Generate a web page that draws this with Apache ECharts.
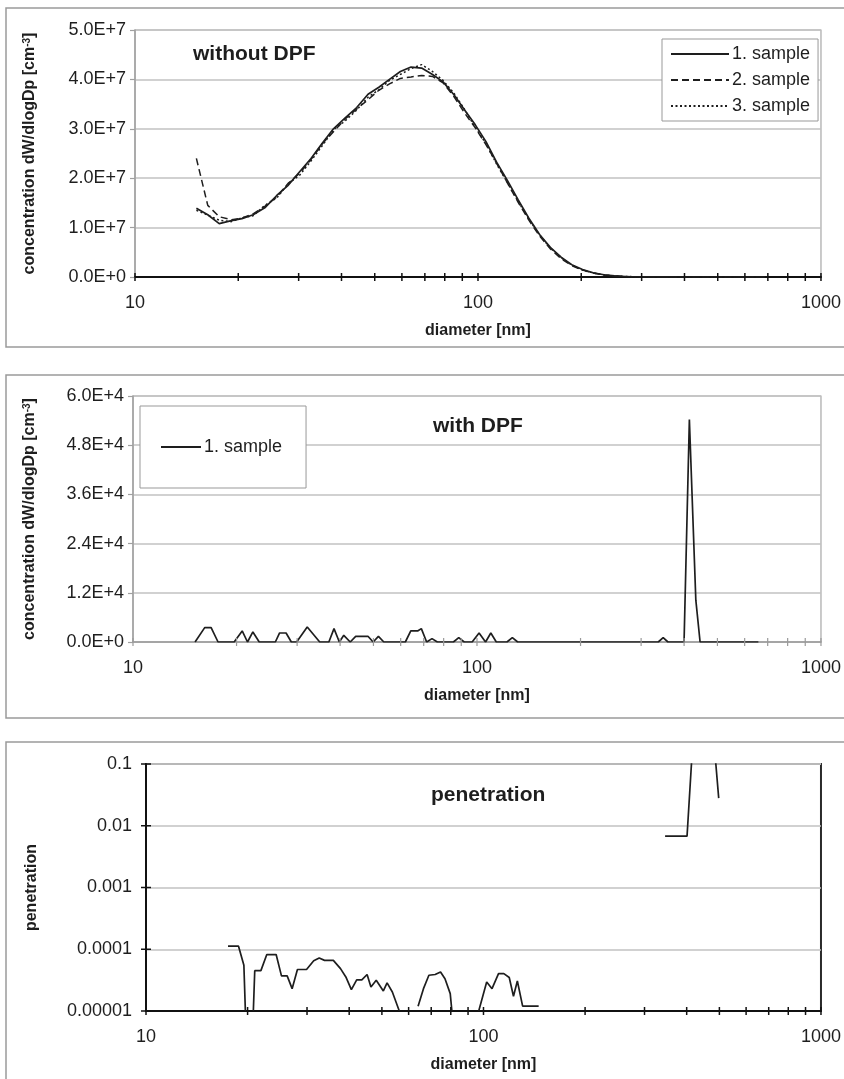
<!DOCTYPE html>
<html><head><meta charset="utf-8">
<script src="https://cdn.jsdelivr.net/npm/echarts@6/dist/echarts.min.js"></script>
<style>html,body{margin:0;padding:0;background:#fff}#c{width:844px;height:1079px}</style>
</head><body><div id="c"></div>
<script>
// ---------- data ----------
const seriesNames = ['1. sample', '2. sample', '3. sample'];
const panelTitles = ['without DPF', 'with DPF', 'penetration'];

// panel 1: without DPF (diameter nm, dW/dlogDp cm^-3)
const diam1 = [15.1, 16.3, 17.6, 19.1, 20.5, 22.1, 23.9, 25.9, 27.9, 30.2, 32.6, 35.1, 37.9, 41.0, 44.3, 47.8, 51.4, 55.2, 59.4, 63.8,
  68.5, 73.7, 79.1, 85.1, 91.4, 98.2, 105.5, 113.4, 121.9, 131.0, 140.7, 151.2, 162.5, 174.7, 187.7, 201.7, 216.7, 232.9, 250.3, 269.0,
  289.0, 310.6, 333.8, 358.7, 385.4, 414.2, 445.1, 478.3, 514.0, 552.3, 593.5, 637.8, 685.4];
const sample1 = [1.39e7, 1.26e7, 1.08e7, 1.14e7, 1.18e7, 1.26e7, 1.40e7, 1.65e7, 1.85e7, 2.13e7, 2.40e7, 2.70e7, 3.00e7, 3.22e7, 3.43e7, 3.70e7, 3.84e7, 4.00e7, 4.16e7, 4.25e7,
  4.23e7, 4.10e7, 3.95e7, 3.69e7, 3.38e7, 3.08e7, 2.74e7, 2.32e7, 1.95e7, 1.56e7, 1.19e7, 8.6e6, 6.0e6, 4.0e6, 2.5e6, 1.5e6, 8.5e5, 4.5e5, 2.2e5, 1.0e5,
  5e4, 3e4, 2e4, 1e4, 0, 0, 0, 0, 0, 0, 0, 0, 0];
const sample2 = [2.40e7, 1.45e7, 1.22e7, 1.16e7, 1.19e7, 1.28e7, 1.43e7, 1.62e7, 1.89e7, 2.10e7, 2.38e7, 2.69e7, 2.94e7, 3.20e7, 3.40e7, 3.59e7, 3.78e7, 3.91e7, 4.02e7, 4.05e7,
  4.08e7, 4.06e7, 3.93e7, 3.65e7, 3.32e7, 3.02e7, 2.68e7, 2.30e7, 1.90e7, 1.51e7, 1.15e7, 8.3e6, 5.7e6, 3.7e6, 2.3e6, 1.4e6, 8.0e5, 4.0e5, 2.0e5, 1.0e5,
  5e4, 3e4, 2e4, 1e4, 0, 0, 0, 0, 0, 0, 0, 0, 0];
const sample3 = [1.35e7, 1.25e7, 1.15e7, 1.12e7, 1.20e7, 1.24e7, 1.45e7, 1.60e7, 1.88e7, 2.06e7, 2.35e7, 2.65e7, 2.98e7, 3.16e7, 3.38e7, 3.64e7, 3.79e7, 3.98e7, 4.10e7, 4.22e7,
  4.30e7, 4.16e7, 3.98e7, 3.72e7, 3.39e7, 3.03e7, 2.70e7, 2.28e7, 1.91e7, 1.53e7, 1.17e7, 8.5e6, 5.9e6, 3.9e6, 2.4e6, 1.4e6, 8.0e5, 4.2e5, 2.0e5, 1.0e5,
  5e4, 3e4, 2e4, 1e4, 0, 0, 0, 0, 0, 0, 0, 0, 0];

// panel 2: with DPF
const dpfDiam = [15.15, 16.16, 16.87, 17.67, 19.68, 20.77, 21.52, 22.31, 23.28, 25.93, 26.68, 27.86, 28.86, 29.9, 32.1, 34.9, 37.1, 38.4, 39.8, 41.0,
  42.8, 44.4, 48.2, 49.9, 51.7, 53.6, 61.9, 64.2, 67.2, 68.9, 71.4, 74.0, 76.7, 85.4, 88.5, 91.8, 96.8, 101.4, 105.9, 109.7,
  113.8, 122.2, 126.7, 131.3, 336.5, 347.7, 359.1, 399.9, 414.4, 432.7, 445.2, 657.7];
const dpfSample1 = [0, 3510, 3510, 0, 0, 2690, 0, 2450, 0, 0, 2200, 2200, 0, 0, 3670, 0, 0, 3270, 0, 1630,
  0, 1390, 1390, 0, 1390, 0, 0, 2690, 2690, 3270, 0, 820, 0, 0, 1060, 0, 0, 2200, 0, 2200,
  0, 0, 1060, 0, 0, 1060, 0, 0, 54290, 10200, 0, 0];

// panel 3: penetration (null = no value / gap)
const penDiam = [17.5, 18.8, 19.5, 19.7, 20.2, 20.8, 21.0, 21.9, 22.8, 24.3, 25.2, 26.2, 27.1, 28.1, 29.9, 31.4, 32.6, 33.8, 35.9, 37.7,
  39.1, 40.6, 42.1, 43.6, 45.2, 46.4, 48.1, 50.5, 51.8, 53.7, 56.3, 60.0, 64.0, 66.4, 68.9, 71.9, 74.6, 76.9, 79.7, 80.6,
  90.0, 96.8, 102.2, 106.0, 110.8, 114.9, 119.2, 122.7, 126.0, 130.6, 145.7, 200.0, 345.2, 401.0, 428.0, 460.0, 497.7];
const penValue = [1.12e-4, 1.12e-4, 5.5e-5, 1e-5, null, 1e-5, 4.5e-5, 4.5e-5, 8.2e-5, 8.2e-5, 3.7e-5, 3.7e-5, 2.3e-5, 4.7e-5, 4.7e-5, 6.5e-5, 7.2e-5, 6.6e-5, 6.6e-5, 4.85e-5,
  3.56e-5, 2.22e-5, 3.2e-5, 3.2e-5, 3.9e-5, 2.45e-5, 3.14e-5, 2.11e-5, 2.85e-5, 2.03e-5, 1e-5, null, 1.19e-5, 2.3e-5, 3.79e-5, 3.9e-5, 4.28e-5, 3.34e-5, 1.91e-5, 1e-5,
  null, 1e-5, 2.95e-5, 2.3e-5, 4.03e-5, 4.03e-5, 3.48e-5, 1.73e-5, 3.06e-5, 1.2e-5, 1.2e-5, null, 6.8e-3, 6.8e-3, 2.3, 4.7, 2.8e-2];

// ticks and labels
const xTickValues = [10, 20, 30, 40, 50, 60, 70, 80, 90, 100, 200, 300, 400, 500, 600, 700, 800, 900, 1000];
const xTickLabels = ['10', '100', '1000'];
const conc1TickLabels = ['0.0E+0', '1.0E+7', '2.0E+7', '3.0E+7', '4.0E+7', '5.0E+7'];
const conc2TickLabels = ['0.0E+0', '1.2E+4', '2.4E+4', '3.6E+4', '4.8E+4', '6.0E+4'];
const penTickValues = [1e-5, 1e-4, 1e-3, 1e-2, 1e-1];
const penTickLabels = ['0.00001', '0.0001', '0.001', '0.01', '0.1'];

// ---------- chart ----------
const FONT = "'Liberation Sans', Arial, sans-serif";
const INK = '#1e1e1e';
const GRIDC = '#c2c2c2';
const FRAME = '#a8a8a8';

function pairs(xs, ys) { return xs.map((x, i) => [x, ys[i] === null ? '-' : ys[i]]); }

function tickSeries(xi, yi, data, horizontal, color, w, half) {
  return {
    type: 'custom', xAxisIndex: xi, yAxisIndex: yi, silent: true, z: 6, animation: false,
    data: data,
    renderItem: function (params, api) {
      const p = api.coord([api.value(0), api.value(1)]);
      const shape = horizontal
        ? { x1: p[0] - half, y1: p[1], x2: p[0] + half, y2: p[1] }
        : { x1: p[0], y1: p[1] - half, x2: p[0], y2: p[1] + half };
      return { type: 'line', shape: shape, style: { stroke: color, lineWidth: w } };
    }
  };
}

const nameRich = {
  t: { fontSize: 16, fontWeight: 'bold', fontFamily: FONT, color: INK },
  s: { fontSize: 10, fontWeight: 'bold', fontFamily: FONT, color: INK, verticalAlign: 'top' }
};
const concName = '{t|concentration dW/dlogDp [cm}{s|-3}{t|]}';

function xAxisCfg(gi, lineColor, lineW) {
  return {
    type: 'log', logBase: 10, gridIndex: gi, min: 10, max: 1000,
    name: 'diameter [nm]', nameLocation: 'middle', nameGap: 46,
    nameTextStyle: { fontSize: 16, fontWeight: 'bold', color: INK, fontFamily: FONT },
    axisLine: { show: true, onZero: false, lineStyle: { color: lineColor, width: lineW } },
    axisTick: { show: false },
    splitLine: { show: false },
    axisLabel: { fontSize: 18, color: INK, margin: 17, fontFamily: FONT,
      formatter: (v, i) => xTickLabels[i] }
  };
}

const lineBase = { type: 'line', showSymbol: false, symbol: 'none', animation: false, clip: true };

const option = {
  animation: false,
  backgroundColor: '#fff',
  textStyle: { fontFamily: FONT },
  graphic: [
    { type: 'rect', shape: { x: 6, y: 8, width: 860, height: 339 }, style: { fill: 'none', stroke: '#9a9a9a', lineWidth: 1.5 }, z: -10 },
    { type: 'rect', shape: { x: 6, y: 375, width: 860, height: 343 }, style: { fill: 'none', stroke: '#9a9a9a', lineWidth: 1.5 }, z: -10 },
    { type: 'rect', shape: { x: 6, y: 742, width: 860, height: 400 }, style: { fill: 'none', stroke: '#9a9a9a', lineWidth: 1.5 }, z: -10 }
  ],
  title: [
    { text: panelTitles[0], left: 193, top: 44, padding: 0, textStyle: { fontSize: 21, fontWeight: 'bold', color: INK, fontFamily: FONT } },
    { text: panelTitles[1], left: 433, top: 416, padding: 0, textStyle: { fontSize: 21, fontWeight: 'bold', color: INK, fontFamily: FONT } },
    { text: panelTitles[2], left: 431, top: 785, padding: 0, textStyle: { fontSize: 21, fontWeight: 'bold', color: INK, fontFamily: FONT } }
  ],
  legend: [
    { data: seriesNames, orient: 'vertical', left: 662, top: 39, padding: [6, 8, 6, 8], itemGap: 8,
      itemWidth: 58, itemHeight: 14, borderColor: '#999', borderWidth: 1, backgroundColor: '#fff',
      itemStyle: { opacity: 0 },
      textStyle: { fontSize: 18, color: INK, fontFamily: FONT, padding: [0, 0, 0, -2] }, selectedMode: false },
    { data: [seriesNames[0]], orient: 'vertical', left: 140, top: 406, padding: [32, 24, 32, 20],
      itemWidth: 40, itemHeight: 14, borderColor: '#999', borderWidth: 1, backgroundColor: '#fff',
      itemStyle: { opacity: 0 },
      textStyle: { fontSize: 18, color: INK, fontFamily: FONT, padding: [0, 0, 0, -2] }, selectedMode: false }
  ],
  grid: [
    { left: 135, right: 18, top: 30, height: 247, show: true, borderColor: FRAME, borderWidth: 1.2, backgroundColor: 'transparent' },
    { left: 133, right: 19, top: 396, height: 246, show: true, borderColor: FRAME, borderWidth: 1.2, backgroundColor: 'transparent' },
    { left: 146, right: 19, top: 764, height: 247, show: true, borderColor: '#2a2a2a', borderWidth: 2, backgroundColor: 'transparent' }
  ],
  xAxis: [
    xAxisCfg(0, '#111', 2),
    xAxisCfg(1, '#9a9a9a', 1.5),
    xAxisCfg(2, '#111', 2)
  ],
  yAxis: [
    { type: 'value', gridIndex: 0, min: 0, max: 5e7, interval: 1e7,
      name: concName, nameLocation: 'middle', nameGap: 97, nameRotate: 90, nameTextStyle: { rich: nameRich },
      axisLine: { show: true, lineStyle: { color: '#a0a0a0', width: 1.5 } },
      axisTick: { show: true, length: 5, lineStyle: { color: '#a0a0a0', width: 1.2 } },
      splitLine: { lineStyle: { color: GRIDC, width: 1.5 } },
      axisLabel: { fontSize: 18, color: INK, margin: 9, fontFamily: FONT, formatter: (v, i) => conc1TickLabels[i] } },
    { type: 'value', gridIndex: 1, min: 0, max: 6e4, interval: 1.2e4,
      name: concName, nameLocation: 'middle', nameGap: 95, nameRotate: 90, nameTextStyle: { rich: nameRich },
      axisLine: { show: true, lineStyle: { color: '#a0a0a0', width: 1.5 } },
      axisTick: { show: true, length: 5, lineStyle: { color: '#a0a0a0', width: 1.2 } },
      splitLine: { lineStyle: { color: GRIDC, width: 1.5 } },
      axisLabel: { fontSize: 18, color: INK, margin: 9, fontFamily: FONT, formatter: (v, i) => conc2TickLabels[i] } },
    { type: 'log', logBase: 10, gridIndex: 2, min: 1e-5, max: 0.1,
      name: 'penetration', nameLocation: 'middle', nameGap: 106, nameRotate: 90,
      nameTextStyle: { fontSize: 16, fontWeight: 'bold', color: INK, fontFamily: FONT },
      axisLine: { show: true, lineStyle: { color: '#111', width: 2 } },
      axisTick: { show: false },
      splitLine: { lineStyle: { color: GRIDC, width: 1.5 } },
      axisLabel: { fontSize: 18, color: INK, margin: 14, fontFamily: FONT, formatter: (v, i) => penTickLabels[i] } }
  ],
  series: [
    Object.assign({}, lineBase, { name: seriesNames[0], xAxisIndex: 0, yAxisIndex: 0, data: pairs(diam1, sample1),
      lineStyle: { color: INK, width: 1.7, type: 'solid' }, itemStyle: { color: INK }, z: 4 }),
    Object.assign({}, lineBase, { name: seriesNames[1], xAxisIndex: 0, yAxisIndex: 0, data: pairs(diam1, sample2),
      lineStyle: { color: INK, width: 1.5, type: [7, 4] }, itemStyle: { color: INK }, z: 3 }),
    Object.assign({}, lineBase, { name: seriesNames[2], xAxisIndex: 0, yAxisIndex: 0, data: pairs(diam1, sample3),
      lineStyle: { color: INK, width: 1.5, type: [2, 2.5] }, itemStyle: { color: INK }, z: 3 }),
    Object.assign({}, lineBase, { name: seriesNames[0], xAxisIndex: 1, yAxisIndex: 1, data: pairs(dpfDiam, dpfSample1),
      lineStyle: { color: INK, width: 1.7 }, itemStyle: { color: INK }, z: 4 }),
    Object.assign({}, lineBase, { name: 'penetration', xAxisIndex: 2, yAxisIndex: 2, data: pairs(penDiam, penValue),
      connectNulls: false, lineStyle: { color: INK, width: 1.7 }, itemStyle: { color: INK }, z: 4 }),
    tickSeries(0, 0, xTickValues.map(v => [v, 0]), false, '#111', 1.5, 4),
    tickSeries(1, 1, xTickValues.map(v => [v, 0]), false, '#9a9a9a', 1.2, 4),
    tickSeries(2, 2, xTickValues.map(v => [v, 1e-5]), false, '#111', 1.5, 4),
    tickSeries(2, 2, penTickValues.map(v => [10, v]), true, '#111', 1.5, 5)
  ]
};

const chart = echarts.init(document.getElementById('c'), null, { renderer: 'canvas' });
chart.setOption(option);
</script>
</body></html>
